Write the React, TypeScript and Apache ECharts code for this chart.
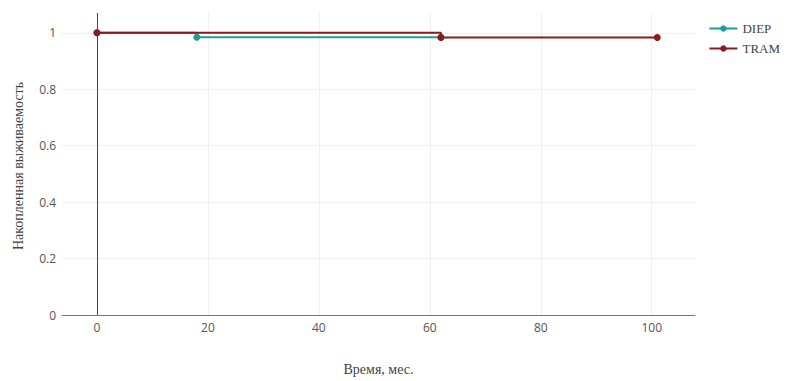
import React, { useEffect, useRef } from "react";
import * as echarts from "echarts";

const diepTime = [0, 18, 62];
const diepSurv = [1, 0.984, 0.984];
const tramTime = [0, 62, 101];
const tramSurv = [1, 0.983, 0.983];
const seriesNames = ["DIEP", "TRAM"];
const xTitle = "Время, мес.";
const yTitle = "Накопленная выживаемость";

export default function App() {
  const ref = useRef<HTMLDivElement>(null);
  useEffect(() => {
    if (!ref.current) return;
    const chart = echarts.init(ref.current, null, { renderer: "svg" });
    const tickFont = { fontFamily: "Open Sans", fontSize: 12, color: "#555" };
    const titleFont = { fontFamily: "Liberation Serif", fontSize: 14, color: "#444" };
    chart.setOption({
      animation: false,
      backgroundColor: "#fff",
      grid: { left: 62, right: 92, top: 13, bottom: 61, containLabel: false },
      legend: {
        orient: "vertical",
        right: 2,
        top: 17,
        itemWidth: 28,
        itemHeight: 8,
        itemGap: 7,
        textStyle: { fontFamily: "Liberation Serif", fontSize: 13, color: "#444" },
        data: seriesNames,
      },
      graphic: [
        {
          type: "text",
          x: 18,
          y: 166,
          rotation: Math.PI / 2,
          style: {
            text: yTitle,
            fontFamily: "Liberation Serif",
            fontSize: 14,
            fill: "#444",
            textAlign: "center",
            textVerticalAlign: "middle",
          },
        },
      ],
      xAxis: {
        type: "value",
        min: -6.3,
        max: 107.8,
        splitNumber: 6,
        name: xTitle,
        nameLocation: "middle",
        nameGap: 47,
        nameTextStyle: titleFont,
        axisLine: { show: true, onZero: false, lineStyle: { color: "#777", width: 1 } },
        axisTick: { show: false },
        axisLabel: {
          ...tickFont,
          margin: 6,
          showMinLabel: false,
          showMaxLabel: false,
          formatter: (v: number) => (Math.abs(v % 20) < 1e-6 ? String(v) : ""),
        },
        splitLine: { show: true, showMinLine: false, showMaxLine: false, lineStyle: { color: "#eee" } },
      },
      yAxis: {
        type: "value",
        min: 0,
        max: 1.07,
        interval: 0.2,
        axisLine: { show: false },
        axisTick: { show: false },
        axisLabel: {
          ...tickFont,
          margin: 6,
          showMaxLabel: false,
          formatter: (v: number) => (v > 1.0001 ? "" : String(Math.round(v * 10) / 10)),
        },
        splitLine: { show: true, showMaxLine: false, lineStyle: { color: "#eee" } },
      },
      series: [
        {
          name: seriesNames[0],
          type: "line",
          step: "end",
          data: diepTime.map((t, i) => [t, diepSurv[i]]),
          symbol: "circle",
          symbolSize: 7,
          itemStyle: { color: "#1f9d96" },
          lineStyle: { color: "#1f9d96", width: 2 },
          markLine: {
            silent: true,
            symbol: "none",
            label: { show: false },
            lineStyle: { color: "#444", width: 1, type: "solid" },
            data: [{ xAxis: 0 }],
          },
          z: 2,
        },
        {
          name: seriesNames[1],
          type: "line",
          step: "end",
          data: tramTime.map((t, i) => [t, tramSurv[i]]),
          symbol: "circle",
          symbolSize: 7,
          itemStyle: { color: "#8b1a1a" },
          lineStyle: { color: "#8b1a1a", width: 2 },
          z: 3,
        },
      ],
    });
    return () => chart.dispose();
  }, []);
  return (
    <div
      ref={ref}
      style={{ position: "fixed", left: 0, top: 0, width: 787, height: 381 }}
    />
  );
}
